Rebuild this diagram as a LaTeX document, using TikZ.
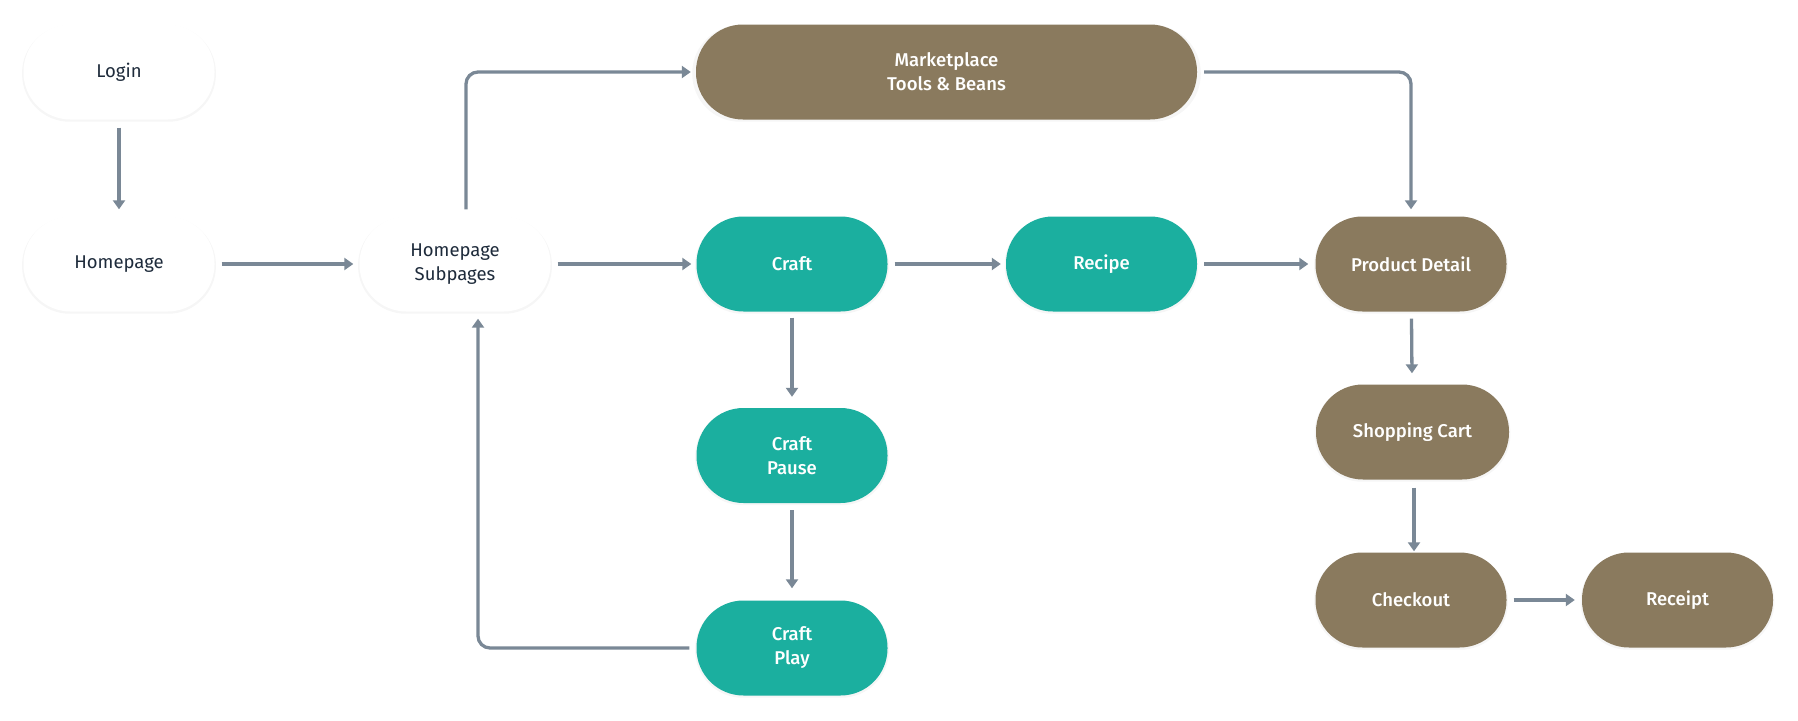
\documentclass[tikz,border=0pt]{standalone}
\usepackage{fontspec}
\setmainfont{Fira Sans}
\newfontfamily\medfont{Fira Sans Medium}
\usetikzlibrary{arrows.meta,shadows}
\definecolor{brownc}{HTML}{8A7A5E}
\definecolor{tealc}{HTML}{1BAF9F}
\definecolor{arrc}{HTML}{7A8896}
\definecolor{txtc}{HTML}{1E2B3B}
\begin{document}
\begin{tikzpicture}[x=1pt,y=-1pt,
  box/.style={rectangle, rounded corners=47pt, minimum width=191pt, minimum height=95pt,
    align=center, inner sep=0pt,
    drop shadow={opacity=0.07, shadow xshift=0pt, shadow yshift=-1.5pt, shadow scale=1.015}},
  wbox/.style={box, fill=white, text=txtc, font=\fontsize{18.5}{24}\selectfont},
  tbox/.style={box, fill=tealc, text=white, font=\medfont\fontsize{18.5}{24}\selectfont},
  bbox/.style={box, fill=brownc, text=white, font=\medfont\fontsize{18.5}{24}\selectfont},
  arr/.style={draw=arrc, line width=3.3pt, -{Triangle[length=9pt,width=12pt]}, rounded corners=12pt}
]
\fill[white] (0,0) rectangle (1798,720);
\useasboundingbox (0,0) rectangle (1798,720);

\node[wbox] (login) at (119,72) {Login};
\node[wbox] (home) at (119,264) {Homepage};
\node[wbox] (sub) at (455,264) {Homepage\\Subpages};
\node[bbox, minimum width=501pt] (mkt) at (946.5,72) {Marketplace\\Tools \& Beans};
\node[tbox] (craft) at (792,264) {Craft};
\node[tbox] (recipe) at (1101.5,264) {Recipe};
\node[bbox] (prod) at (1411,264) {Product Detail};
\node[tbox] (pause) at (792,455.5) {Craft\\Pause};
\node[tbox] (play) at (792,648) {Craft\\Play};
\node[bbox, minimum width=193pt] (cart) at (1412.5,432) {Shopping Cart};
\node[bbox] (check) at (1411,600) {Checkout};
\node[bbox] (receipt) at (1677.5,600) {Receipt};

\draw[arr, shorten <=8pt, shorten >=7pt] (login) -- (home);
\draw[arr, shorten <=7pt, shorten >=6pt] (home) -- (sub);
\draw[arr, shorten <=7pt, shorten >=5pt] (sub) -- (craft);
\draw[arr, shorten <=7pt, shorten >=5pt] ([xshift=11pt]sub.north) |- (mkt.west);
\draw[arr, shorten <=7pt, shorten >=7pt] (mkt.east) -| (prod.north);
\draw[arr, shorten <=7pt, shorten >=5pt] (craft) -- (recipe);
\draw[arr, shorten <=7pt, shorten >=7pt] (recipe) -- (prod);
\draw[arr, shorten <=6pt, shorten >=11pt] (craft) -- (pause);
\draw[arr, shorten <=7pt, shorten >=12pt] (pause) -- (play);
\draw[arr, shorten <=7pt, shorten >=7pt] (play.west) -| ([xshift=23pt]sub.south);
\draw[arr, shorten <=7pt, shorten >=11pt] (prod) -- (cart);
\draw[arr, shorten <=8pt, shorten >=1pt] ([xshift=1.5pt]cart.south) -- ([xshift=1.5pt]cart.south |- check.north);
\draw[arr, shorten <=7pt, shorten >=7pt] (check) -- (receipt);
\end{tikzpicture}
\end{document}
